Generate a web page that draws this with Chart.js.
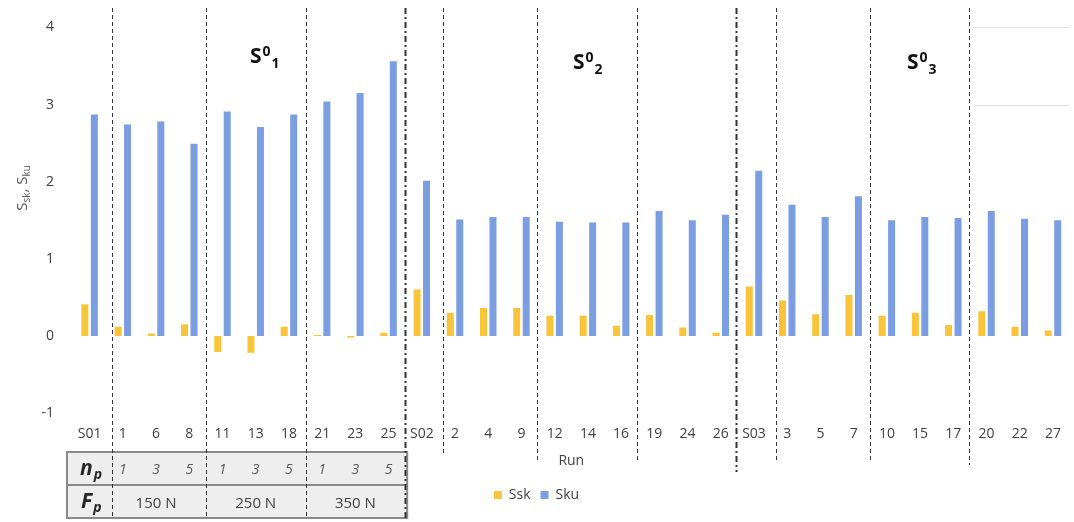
<!DOCTYPE html>
<html>
<head>
<meta charset="utf-8">
<script src="https://cdn.jsdelivr.net/npm/chart.js@4"></script>
<style>
  html, body { margin: 0; padding: 0; background: #fff; }
  #wrap { width: 1074px; height: 522px; }
</style>
</head>
<body>
<div id="wrap"><canvas id="chart"></canvas></div>
<script>
const runs = ['S01', '1', '6', '8', '11', '13', '18', '21', '23', '25',
              'S02', '2', '4', '9', '12', '14', '16', '19', '24', '26',
              'S03', '3', '5', '7', '10', '15', '17', '20', '22', '27'];
const ssk = [0.41, 0.12, 0.03, 0.15, -0.21, -0.22, 0.12, 0.01, -0.02, 0.04,
             0.60, 0.30, 0.36, 0.36, 0.26, 0.26, 0.13, 0.27, 0.11, 0.04,
             0.64, 0.46, 0.28, 0.53, 0.26, 0.30, 0.14, 0.32, 0.12, 0.07];
const sku = [2.87, 2.74, 2.78, 2.49, 2.91, 2.71, 2.87, 3.04, 3.15, 3.56,
             2.01, 1.51, 1.54, 1.54, 1.48, 1.47, 1.47, 1.62, 1.50, 1.57,
             2.14, 1.70, 1.54, 1.81, 1.50, 1.54, 1.53, 1.62, 1.52, 1.50];
const npLabels = ['1', '3', '5', '1', '3', '5', '1', '3', '5'];
const fpLabels = ['150 N', '250 N', '350 N'];
const groupNames = [['S', '0', '1'], ['S', '0', '2'], ['S', '0', '3']];

// boundaries between runs where the dividers sit
const dividers = [
  { k: 1, dot: false, off: 6, bottom: 518 },
  { k: 4, dot: false, off: 0, bottom: 518 },
  { k: 7, dot: false, off: 0, bottom: 518 },
  { k: 10, dot: true, off: 0, bottom: 520 },
  { k: 11, dot: false, off: 5, bottom: 456 },
  { k: 14, dot: false, off: -1, bottom: 463 },
  { k: 17, dot: false, off: -1, bottom: 462 },
  { k: 20, dot: true, off: -1, bottom: 472 },
  { k: 21, dot: false, off: 5, bottom: 460 },
  { k: 24, dot: false, off: 0, bottom: 460 },
  { k: 27, dot: false, off: -1, bottom: 465 }
];

const FONT = "'Open Sans', 'Noto Sans', sans-serif";

function drawSup(ctx, x, y, parts, big, small) {
  // parts: base, superscript, subscript (side by side)
  ctx.font = 'bold ' + big + 'px ' + FONT;
  ctx.fillText(parts[0], x, y);
  x += ctx.measureText(parts[0]).width + 1;
  ctx.font = 'bold ' + small + 'px ' + FONT;
  ctx.fillText(parts[1], x, y - 7);
  x += ctx.measureText(parts[1]).width + 1;
  ctx.fillText(parts[2], x, y + 5);
}

const extras = {
  id: 'extras',
  beforeDatasetsDraw(chart) {
    const ctx = chart.ctx;
    const xs = chart.scales.x;
    const ys = chart.scales.y;
    const ca = chart.chartArea;
    ctx.save();

    // leftover gridlines in the last section
    ctx.strokeStyle = '#e3e3e3';
    ctx.lineWidth = 1;
    [4, 3].forEach(v => {
      const y = Math.round(ys.getPixelForValue(v)) + 0.5;
      ctx.beginPath();
      ctx.moveTo(xs.getPixelForValue(26.5) + 3, y);
      ctx.lineTo(ca.right, y);
      ctx.stroke();
    });

    // table under the first group
    const tl = ca.left - 6, tr = xs.getPixelForValue(9.5) + 2;
    const t0 = 452, t1 = 485, t2 = 518;
    ctx.fillStyle = '#eeeeee';
    ctx.fillRect(tl, t0, tr - tl, t2 - t0);
    ctx.strokeStyle = '#8a8a8a';
    ctx.lineWidth = 2;
    ctx.strokeRect(tl, t0, tr - tl, t2 - t0);
    ctx.beginPath();
    ctx.moveTo(tl, t1);
    ctx.lineTo(tr, t1);
    ctx.stroke();

    ctx.fillStyle = '#262626';
    ctx.textBaseline = 'alphabetic';
    ctx.textAlign = 'left';
    ctx.font = 'italic bold 21px ' + FONT;
    ctx.fillText('n', 80, 475);
    let w = ctx.measureText('n').width;
    ctx.font = 'italic bold 14px ' + FONT;
    ctx.fillText('p', 80 + w + 1, 479);
    ctx.font = 'italic bold 21px ' + FONT;
    ctx.fillText('F', 81, 508);
    w = ctx.measureText('F').width;
    ctx.font = 'italic bold 14px ' + FONT;
    ctx.fillText('p', 81 + w + 1, 512);

    ctx.textAlign = 'center';
    ctx.fillStyle = '#595959';
    ctx.font = 'italic 14px ' + FONT;
    npLabels.forEach((s, i) => {
      ctx.fillText(s, xs.getPixelForValue(i + 1), 474);
    });
    ctx.fillStyle = '#404040';
    ctx.font = '15px ' + FONT;
    fpLabels.forEach((s, i) => {
      ctx.fillText(s, xs.getPixelForValue(i * 3 + 2), 508);
    });

    // dividers
    ctx.strokeStyle = '#333333';
    dividers.forEach(d => {
      const x = Math.round(xs.getPixelForValue(d.k - 0.5) + d.off) + 0.5;
      ctx.lineWidth = d.dot ? 2 : 1;
      ctx.setLineDash(d.dot ? [6, 3, 2, 3] : [4, 3]);
      ctx.beginPath();
      ctx.moveTo(x, 8);
      ctx.lineTo(x, d.bottom);
      ctx.stroke();
    });
    ctx.setLineDash([]);

    // group names
    ctx.fillStyle = '#111111';
    ctx.textAlign = 'left';
    drawSup(ctx, 250, 63, groupNames[0], 21, 14);
    drawSup(ctx, 573, 69, groupNames[1], 21, 14);
    drawSup(ctx, 907, 69, groupNames[2], 21, 14);

    // y axis title with subscripts
    ctx.translate(27, 188);
    ctx.rotate(-Math.PI / 2);
    ctx.fillStyle = '#595959';
    const bits = [['S', 15, 0], ['sk', 10, 3], [', S', 15, 0], ['ku', 10, 3]];
    let total = 0;
    bits.forEach(b => { ctx.font = b[1] + 'px ' + FONT; total += ctx.measureText(b[0]).width; });
    let px = -total / 2;
    bits.forEach(b => {
      ctx.font = b[1] + 'px ' + FONT;
      ctx.fillText(b[0], px, b[2]);
      px += ctx.measureText(b[0]).width;
    });
    ctx.restore();
  }
};

const ctx = document.getElementById('chart').getContext('2d');
const chart = new Chart(ctx, {
  type: 'bar',
  data: {
    labels: runs,
    datasets: [{
      label: 'Ssk',
      data: ssk,
      backgroundColor: '#f7c43a',
      categoryPercentage: 0.57,
      barPercentage: 0.74
    }, {
      label: 'Sku',
      data: sku,
      backgroundColor: '#7b9de2',
      categoryPercentage: 0.57,
      barPercentage: 0.74
    }]
  },
  options: {
    responsive: true,
    maintainAspectRatio: false,
    animation: false,
    layout: { padding: { top: 26, right: 1, left: 0, bottom: 10 } },
    plugins: {
      legend: {
        position: 'bottom',
        labels: {
          boxWidth: 8,
          boxHeight: 8,
          padding: 10,
          color: '#404040',
          font: { family: FONT, size: 14 }
        }
      },
      tooltip: { enabled: false }
    },
    scales: {
      x: {
        grid: { display: false, drawTicks: false },
        border: { display: false },
        ticks: { color: '#404040', padding: 13, autoSkip: false, maxRotation: 0, font: { family: FONT, size: 14 } },
        title: { display: true, text: 'Run', color: '#404040', padding: { top: 0, bottom: 9 }, font: { family: FONT, size: 14 } },
        afterFit(s) { s.height = 65; }
      },
      y: {
        min: -1,
        max: 4,
        grid: { display: false, drawTicks: false },
        border: { display: false },
        ticks: { stepSize: 1, color: '#404040', padding: 19, font: { family: FONT, size: 14 } },
        afterFit(s) { s.width = 73; }
      }
    }
  },
  plugins: [extras]
});
</script>
</body>
</html>
